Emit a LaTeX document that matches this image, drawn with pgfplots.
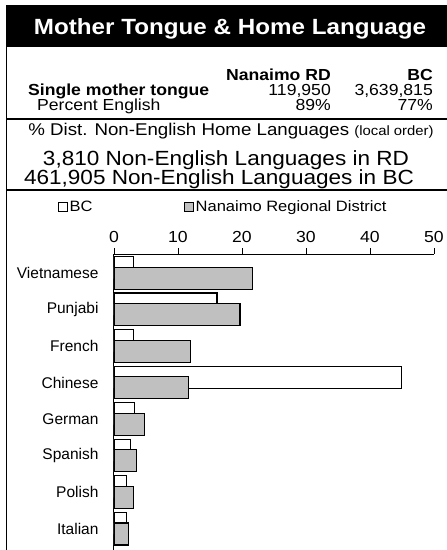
\documentclass[border=0pt]{standalone}
\usepackage{fontspec}
\setmainfont{Liberation Sans}
\newfontfamily\wide{Liberation Sans}[FakeStretch=1.1]
\usepackage{pgfplots}
\pgfplotsset{compat=1.18}
\definecolor{barGray}{RGB}{192,192,192}

% language shares, % (BC, Nanaimo RD), top row = 7
\pgfplotstableread{
y  bc    nrd
7  3.1   21.6
6  16.1  19.7
5  3.1   12.0
4  44.9  11.6
3  3.2   4.8
2  2.6   3.5
1  1.9   3.0
0  2.0   2.3
}\langdata

\begin{document}
\begin{tikzpicture}[x=1pt,y=1pt]
\useasboundingbox (0,0) rectangle (447,-550);
% header band
\fill[black] (6,-5) rectangle (447,-47);
\node[white, inner sep=0pt, anchor=base, font=\wide\fontsize{22}{22}\selectfont\bfseries]
  at (230,-34) {Mother Tongue \& Home Language};
\draw[line width=1.5pt] (6.5,-47) -- (6.5,-550);
\draw[line width=1.5pt] (6,-119) -- (447,-119);
\draw[line width=1.5pt] (6,-190) -- (447,-190);

% small table
\begin{scope}[every node/.style={inner sep=0pt, font=\wide\fontsize{16}{16}\selectfont}]
\node[anchor=base east, font=\wide\fontsize{16}{16}\selectfont\bfseries] at (331,-80) {Nanaimo RD};
\node[anchor=base east, font=\wide\fontsize{16}{16}\selectfont\bfseries] at (433,-80) {BC};
\node[anchor=base west, font=\wide\fontsize{16}{16}\selectfont\bfseries] at (28,-95) {Single mother tongue};
\node[anchor=base east] at (331,-95) {119,950};
\node[anchor=base east] at (433,-95) {3,639,815};
\node[anchor=base west] at (37,-110) {Percent English};
\node[anchor=base east] at (331,-110) {89\%};
\node[anchor=base east] at (433,-110) {77\%};
\end{scope}

% summary lines
\node[inner sep=0pt, anchor=base] at (231,-135)
  {\wide\fontsize{17}{17}\selectfont \% Dist. Non-English Home Languages \fontsize{13.5}{13.5}\selectfont(local order)};
\node[inner sep=0pt, anchor=base, font=\wide\fontsize{20.5}{20.5}\selectfont] at (226,-165) {3,810 Non-English Languages in RD};
\node[inner sep=0pt, anchor=base, font=\wide\fontsize{20.5}{20.5}\selectfont] at (219,-184) {461,905 Non-English Languages in BC};

\begin{axis}[
    at={(114pt,-254pt)},
    anchor=north west,
    scale only axis,
    width=320pt,
    height=296pt,
    xmin=0, xmax=50,
    ymin=-0.586, ymax=7.517,
    axis x line=top,
    axis y line=left,
    axis line style={-, line width=1pt},
    xtick={0,10,20,30,40,50},
    ytick={0,1,2,3,4,5,6,7},
    yticklabels={Italian,Polish,Spanish,German,Chinese,French,Punjabi,Vietnamese},
    tick align=outside,
    major tick length=6pt,
    y tick style={draw=none},
    x tick style={line width=0.8pt, black},
    /pgf/number format/assume math mode=true,
    xticklabel style={font=\wide\fontsize{16}{16}\selectfont, yshift=2pt},
    yticklabel style={font=\fontsize{15.5}{15.5}\selectfont, xshift=-6pt},
    xbar,
    bar width=22pt,
    legend style={at={(axis description cs:-0.175,1.16)}, anchor=west,
        draw=none, fill=none, inner sep=0pt,
        font=\wide\fontsize{15}{15}\selectfont,
        legend columns=2,
        nodes={inner xsep=1.5pt, inner ysep=0pt}},
    legend cell align=left,
    legend image code/.code={\draw[#1, line width=1pt] (0pt,-4.5pt) rectangle (9pt,4.5pt);},
]
\addplot[draw=black, fill=white, line width=1.2pt, bar shift=5.35pt] table[x=bc, y=y] {\langdata};
\addplot[draw=black, fill=barGray, line width=1.2pt, bar shift=-5.35pt] table[x=nrd, y=y] {\langdata};
\legend{\makebox[113pt][l]{BC}, Nanaimo Regional District}
\end{axis}
\end{tikzpicture}
\end{document}
